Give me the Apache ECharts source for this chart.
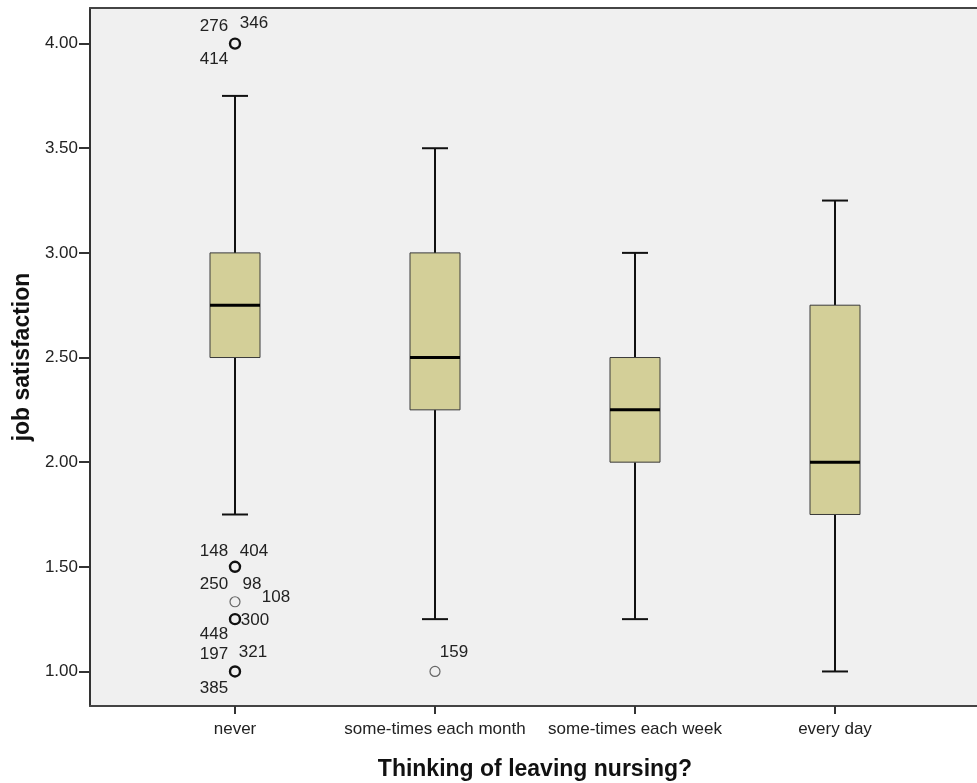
<!DOCTYPE html>
<html>
<head>
<meta charset="utf-8">
<script src="https://cdn.jsdelivr.net/npm/echarts@6/dist/echarts.min.js"></script>
<style>
  html, body { margin: 0; padding: 0; background: #fff; }
  #main { width: 977px; height: 783px; }
</style>
</head>
<body>
<div id="main"></div>
<script>
// box summaries per category
const categories = ['never', 'some-times each month', 'some-times each week', 'every day'];
const whiskerLow = [1.75, 1.25, 1.25, 1.00];
const q1 = [2.50, 2.25, 2.00, 1.75];
const medians = [2.75, 2.50, 2.25, 2.00];
const q3 = [3.00, 3.00, 2.50, 2.75];
const whiskerHigh = [3.75, 3.50, 3.00, 3.25];

// outliers: category index, value, case numbers
const outlierCat = [0, 0, 0, 0, 0, 1];
const outlierVal = [4.00, 1.50, 1.333, 1.25, 1.00, 1.00];
const outlierIds = [['276', '346', '414'], ['148', '404'], ['250', '98', '108'], ['448', '300'], ['197', '321', '385'], ['159']];

const yTicks = [1.00, 1.50, 2.00, 2.50, 3.00, 3.50, 4.00];

// label placement around the outlier circles (style only)
const labelOffset = {
    '276': [-21, -17], '346': [19, -20], '414': [-21, 16],
    '148': [-21, -16], '404': [19, -16],
    '250': [-21, -17], '98': [17, -17], '108': [41, -4],
    '448': [-21, 15], '300': [20, 1],
    '197': [-21, -17], '321': [18, -19], '385': [-21, 17],
    '159': [19, -19]
};
const faintOutliers = [2, 5];

const FONT = '"Liberation Sans", Arial, sans-serif';
const Y_MIN = 0.835, Y_MAX = 4.17;

var chart = echarts.init(document.getElementById('main'));

var boxData = categories.map((c, i) => [i, whiskerLow[i], q1[i], medians[i], q3[i], whiskerHigh[i]]);

var labelData = [];
outlierIds.forEach((ids, i) => {
    ids.forEach(id => {
        labelData.push({
            value: [outlierCat[i], outlierVal[i]],
            label: { formatter: id, offset: labelOffset[id] }
        });
    });
});

function renderBox(params, api) {
    var x = api.coord([api.value(0), api.value(3)])[0];
    var yLow = api.coord([api.value(0), api.value(1)])[1];
    var yQ1 = api.coord([api.value(0), api.value(2)])[1];
    var yMed = api.coord([api.value(0), api.value(3)])[1];
    var yQ3 = api.coord([api.value(0), api.value(4)])[1];
    var yHigh = api.coord([api.value(0), api.value(5)])[1];
    var bw = 25, cw = 13;
    var line = {stroke: '#111', lineWidth: 2};
    return {
        type: 'group',
        children: [
            {type: 'line', shape: {x1: x, y1: yLow, x2: x, y2: yQ1}, style: line},
            {type: 'line', shape: {x1: x, y1: yQ3, x2: x, y2: yHigh}, style: line},
            {type: 'line', shape: {x1: x - cw, y1: yLow, x2: x + cw, y2: yLow}, style: line},
            {type: 'line', shape: {x1: x - cw, y1: yHigh, x2: x + cw, y2: yHigh}, style: line},
            {type: 'rect', shape: {x: x - bw, y: yQ3, width: 2 * bw, height: yQ1 - yQ3},
                style: {fill: '#d3cf98', stroke: '#3a3a3a', lineWidth: 1}},
            {type: 'line', shape: {x1: x - bw, y1: yMed, x2: x + bw, y2: yMed},
                style: {stroke: '#000', lineWidth: 3}}
        ]
    };
}

var frameLine = {show: true, lineStyle: {color: '#444', width: 2}};

var option = {
    backgroundColor: '#fff',
    animation: false,
    textStyle: {fontFamily: FONT},
    grid: [
        {left: 90, top: 8, right: 0, bottom: 77, show: true, outerBoundsMode: 'none',
            backgroundColor: '#f0f0f0', borderWidth: 0},
        {left: 135, right: 42, top: 8, bottom: 77, outerBoundsMode: 'none'}
    ],
    xAxis: [
        {gridIndex: 0, type: 'value', min: 0, max: 1, position: 'bottom',
            axisLine: frameLine, axisTick: {show: false}, axisLabel: {show: false}, splitLine: {show: false}},
        {
            gridIndex: 1,
            type: 'category',
            data: categories,
            axisLine: {show: false},
            axisTick: {show: true, alignWithLabel: true, length: 8, lineStyle: {color: '#333', width: 2}},
            axisLabel: {interval: 0, fontSize: 17, color: '#222', margin: 15, fontFamily: FONT},
            splitLine: {show: false},
            name: 'Thinking of leaving nursing?',
            nameLocation: 'middle',
            nameGap: 52,
            nameTextStyle: {fontSize: 23, fontWeight: 'bold', color: '#111', fontFamily: FONT}
        },
        {gridIndex: 0, type: 'value', min: 0, max: 1, position: 'top',
            axisLine: frameLine, axisTick: {show: false}, axisLabel: {show: false}, splitLine: {show: false}}
    ],
    yAxis: [
        {
            gridIndex: 0,
            type: 'value',
            min: Y_MIN,
            max: Y_MAX,
            axisLine: {show: true, lineStyle: {color: '#333', width: 2}},
            axisTick: {show: true, customValues: yTicks, length: 11, lineStyle: {color: '#333', width: 2}},
            axisLabel: {customValues: yTicks, formatter: v => v.toFixed(2), fontSize: 17, color: '#222', margin: 12, fontFamily: FONT},
            splitLine: {show: false},
            name: 'job satisfaction',
            nameLocation: 'middle',
            nameGap: 51,
            nameTextStyle: {fontSize: 23, fontWeight: 'bold', color: '#111', fontFamily: FONT}
        },
        {gridIndex: 1, type: 'value', min: Y_MIN, max: Y_MAX, show: false}
    ],
    series: [
        {
            type: 'custom',
            xAxisIndex: 1,
            yAxisIndex: 1,
            data: boxData,
            encode: {x: 0, y: [1, 2, 3, 4, 5]},
            renderItem: renderBox,
            z: 2
        },
        {
            type: 'scatter',
            xAxisIndex: 1,
            yAxisIndex: 1,
            symbol: 'circle',
            symbolSize: 10,
            data: outlierVal.map((v, i) => ({
                value: [outlierCat[i], v],
                itemStyle: faintOutliers.includes(i)
                    ? {color: '#f0f0f0', borderColor: '#666', borderWidth: 1.2, opacity: 1}
                    : {color: '#f0f0f0', borderColor: '#111', borderWidth: 2.4, opacity: 1}
            })),
            z: 3
        },
        {
            type: 'scatter',
            xAxisIndex: 1,
            yAxisIndex: 1,
            symbolSize: 1,
            itemStyle: {color: 'transparent', opacity: 1},
            label: {show: true, position: 'inside', fontSize: 17, color: '#222', fontFamily: FONT},
            data: labelData,
            z: 4
        }
    ]
};

chart.setOption(option);
</script>
</body>
</html>
